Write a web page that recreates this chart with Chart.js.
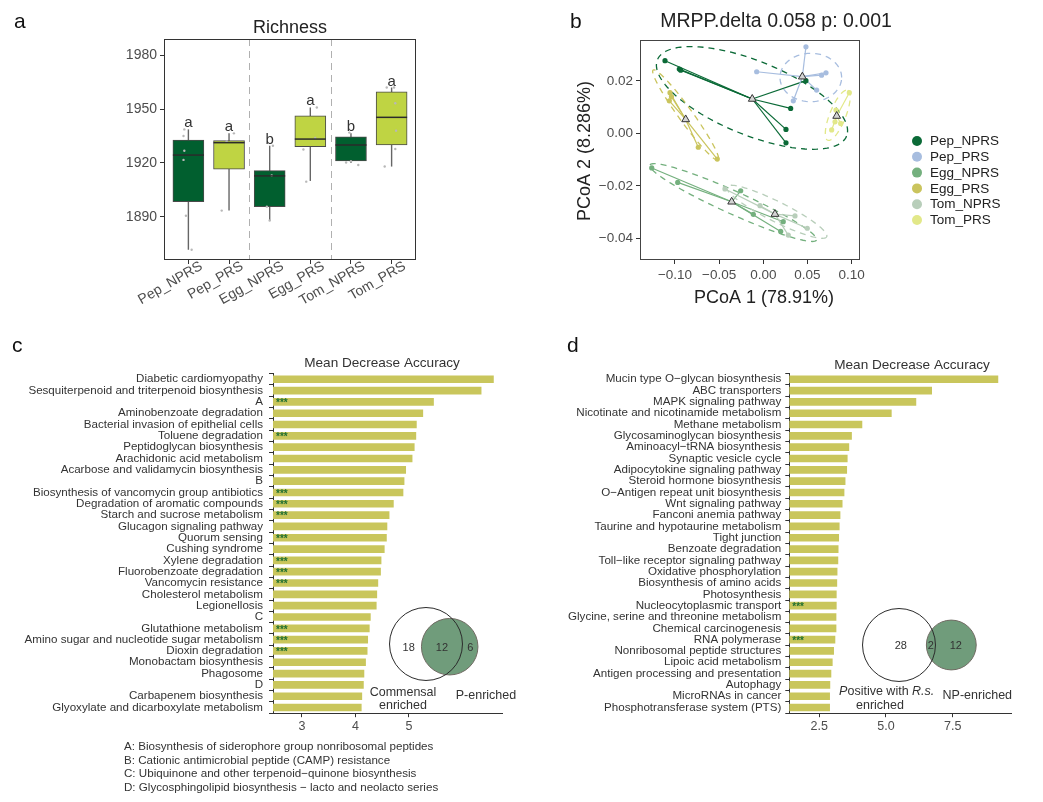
<!DOCTYPE html>
<html>
<head>
<meta charset="utf-8">
<script src="https://cdn.jsdelivr.net/npm/chart.js@4.4.1/dist/chart.umd.min.js"></script>
<style>
  body { margin: 0; background: #fff; font-family: "Liberation Sans", Arial, sans-serif; }
  #wrap { position: relative; width: 1043px; height: 802px; overflow: hidden; }
  canvas { position: absolute; }
  .tag { position: absolute; font-size: 21px; color: #111; line-height: 1; }
  .note { position: absolute; left: 124px; font-size: 11.6px; color: #333; white-space: nowrap; line-height: 1; }
</style>
</head>
<body>
<div id="wrap">
  <canvas id="richness" width="540" height="330" style="left:0;top:0"></canvas>
  <canvas id="pcoa" width="483" height="330" style="left:560px;top:0"></canvas>
  <canvas id="impC" width="540" height="400" style="left:0;top:340px"></canvas>
  <canvas id="impD" width="503" height="400" style="left:540px;top:340px"></canvas>
  <div class="tag" style="left:14px;top:10px">a</div>
  <div class="tag" style="left:570px;top:10px">b</div>
  <div class="tag" style="left:12px;top:334px">c</div>
  <div class="tag" style="left:567px;top:334px">d</div>
  <div class="note" style="top:740px">A: Biosynthesis of siderophore group nonribosomal peptides</div>
  <div class="note" style="top:754px">B: Cationic antimicrobial peptide (CAMP) resistance</div>
  <div class="note" style="top:767px">C: Ubiquinone and other terpenoid−quinone biosynthesis</div>
  <div class="note" style="top:781px">D: Glycosphingolipid biosynthesis − lacto and neolacto series</div>
</div>
<script>
// ---------- a: Richness boxplots ----------
const richGroups = ["Pep_NPRS", "Pep_PRS", "Egg_NPRS", "Egg_PRS", "Tom_NPRS", "Tom_PRS"];
const richLow  = [1871.7, 1893.5, 1887.9, 1910.0, 1920.0, 1918.0];
const richQ1   = [1898.5, 1916.5, 1895.7, 1929.1, 1921.1, 1930.0];
const richMed  = [1924.4, 1931.3, 1912.8, 1933.3, 1930.0, 1945.4];
const richQ3   = [1932.8, 1932.4, 1915.7, 1946.3, 1934.6, 1959.6];
const richHigh = [1938.7, 1936.5, 1929.6, 1950.9, 1936.5, 1962.0];
const richLetters = ["a", "a", "b", "a", "b", "a"];
const richTicks = [1890, 1920, 1950, 1980];
const richSeparators = [1.5, 3.5];
// jittered sample points: group index, jitter offset, value
const richDotGroup = [0, 0, 0, 0, 0, 0, 1, 1, 1, 2, 2, 2, 2, 3, 3, 3, 3, 4, 4, 4, 4, 5, 5, 5, 5, 5, 5];
const richDotShift = [-0.1, -0.12, -0.1, -0.12, -0.06, 0.08, 0.12, -0.06, -0.18, 0.08, 0.05, -0.07, 0.0,
  0.16, 0.12, -0.17, -0.1, -0.04, -0.12, 0.0, 0.18, -0.12, 0.06, 0.09, 0.11, 0.09, -0.17];
const richDotValue = [1938.7, 1935, 1926.8, 1921.7, 1890.6, 1871.7, 1936.5, 1932, 1893.5, 1929.6, 1913, 1895.7, 1888,
  1950.9, 1933.9, 1927.5, 1909.6, 1936.9, 1920.3, 1921, 1918.9, 1962, 1962, 1953.2, 1938, 1927.8, 1918];

// ---------- b: PCoA ----------
const pcoaGroups = ["Pep_NPRS", "Pep_PRS", "Egg_NPRS", "Egg_PRS", "Tom_NPRS", "Tom_PRS"];
const pcoaX = [
  [-0.1113, -0.0951, -0.0935, 0.0483, 0.031, 0.0257, 0.0257],
  [0.0483, -0.0075, 0.071, 0.0604, 0.034, 0.066],
  [-0.1263, -0.0969, -0.0256, -0.0113, 0.0226, 0.0197],
  [-0.1056, -0.1064, -0.104, -0.0736, -0.0521],
  [-0.0434, -0.0037, 0.0359, 0.0498, 0.0283],
  [0.0974, 0.0823, 0.0876, 0.0774, 0.0812]
];
const pcoaY = [
  [0.0277, 0.0245, 0.0241, 0.0201, 0.0095, 0.0015, -0.0036],
  [0.033, 0.0235, 0.0231, 0.0165, 0.0124, 0.0222],
  [-0.0132, -0.0187, -0.0219, -0.0309, -0.0337, -0.0374],
  [0.0155, 0.0124, 0.014, -0.0053, -0.0098],
  [-0.0212, -0.0276, -0.0315, -0.0362, -0.0388],
  [0.0155, 0.0089, 0.0038, 0.0013, 0.0044]
];
const centroidX = [-0.0125, 0.0442, -0.0358, -0.0879, 0.0132, 0.0831];
const centroidY = [0.0131, 0.0216, -0.0261, 0.0053, -0.0308, 0.0066];
// confidence ellipses: centre and two conjugate semi-axes, in PCoA units
const ellCX = [-0.0128, 0.0538, -0.034, -0.0879, 0.0152, 0.0843];
const ellCY = [0.0135, 0.0213, -0.0264, 0.007, -0.0299, 0.0069];
const ellAX = [0.1071, 0.0349, 0.0943, 0.0368, 0.0566, 0.0113];
const ellAY = [-0.01457, 0, -0.0143, -0.01716, -0.00953, 0.00953];
const ellBX = [-0.01573, 0, -0.00529, -0.00645, -0.0051, 0.0084];
const ellBY = [-0.01308, 0.00923, -0.00397, -0.00156, -0.0034, -0.00114];
const pcoaXTicks = [-0.1, -0.05, 0, 0.05, 0.1];
const pcoaYTicks = [-0.04, -0.02, 0, 0.02];

// ---------- c: importance, commensal ----------
const cLabels = ["Diabetic cardiomyopathy", "Sesquiterpenoid and triterpenoid biosynthesis", "A",
  "Aminobenzoate degradation", "Bacterial invasion of epithelial cells", "Toluene degradation",
  "Peptidoglycan biosynthesis", "Arachidonic acid metabolism", "Acarbose and validamycin biosynthesis", "B",
  "Biosynthesis of vancomycin group antibiotics", "Degradation of aromatic compounds",
  "Starch and sucrose metabolism", "Glucagon signaling pathway", "Quorum sensing", "Cushing syndrome",
  "Xylene degradation", "Fluorobenzoate degradation", "Vancomycin resistance", "Cholesterol metabolism",
  "Legionellosis", "C", "Glutathione metabolism", "Amino sugar and nucleotide sugar metabolism",
  "Dioxin degradation", "Monobactam biosynthesis", "Phagosome", "D", "Carbapenem biosynthesis",
  "Glyoxylate and dicarboxylate metabolism"];
const cValues = [6.58, 6.35, 5.46, 5.26, 5.14, 5.13, 5.10, 5.06, 4.94, 4.91, 4.89, 4.71, 4.63, 4.59, 4.58,
  4.54, 4.48, 4.47, 4.42, 4.40, 4.39, 4.28, 4.26, 4.23, 4.22, 4.19, 4.16, 4.15, 4.12, 4.11];
const cStars = [0, 0, 1, 0, 0, 1, 0, 0, 0, 0, 1, 1, 1, 0, 1, 0, 1, 1, 1, 0, 0, 0, 1, 1, 1, 0, 0, 0, 0, 0];
const cTicks = [3, 4, 5];
const cVenn = [18, 12, 6];

// ---------- d: importance, positive ----------
const dLabels = ["Mucin type O−glycan biosynthesis", "ABC transporters", "MAPK signaling pathway",
  "Nicotinate and nicotinamide metabolism", "Methane metabolism", "Glycosaminoglycan biosynthesis",
  "Aminoacyl−tRNA biosynthesis", "Synaptic vesicle cycle", "Adipocytokine signaling pathway",
  "Steroid hormone biosynthesis", "O−Antigen repeat unit biosynthesis", "Wnt signaling pathway",
  "Fanconi anemia pathway", "Taurine and hypotaurine metabolism", "Tight junction", "Benzoate degradation",
  "Toll−like receptor signaling pathway", "Oxidative phosphorylation", "Biosynthesis of amino acids",
  "Photosynthesis", "Nucleocytoplasmic transport", "Glycine, serine and threonine metabolism",
  "Chemical carcinogenesis", "RNA polymerase", "Nonribosomal peptide structures", "Lipoic acid metabolism",
  "Antigen processing and presentation", "Autophagy", "MicroRNAs in cancer", "Phosphotransferase system (PTS)"];
const dValues = [9.19, 6.71, 6.12, 5.20, 4.10, 3.71, 3.61, 3.55, 3.53, 3.47, 3.43, 3.36, 3.28, 3.25, 3.23,
  3.21, 3.20, 3.17, 3.16, 3.14, 3.14, 3.13, 3.13, 3.09, 3.04, 2.99, 2.94, 2.90, 2.89, 2.89];
const dStars = [0, 0, 0, 0, 0, 0, 0, 0, 0, 0, 0, 0, 0, 0, 0, 0, 0, 0, 0, 0, 1, 0, 0, 1, 0, 0, 0, 0, 0, 0];
const dTicks = [2.5, 5.0, 7.5];
const dVenn = [28, 2, 12];

// colours
const NPRS_FILL = "#015f2f";
const PRS_FILL = "#bfd443";
const richFill = richGroups.map(g => g.endsWith("NPRS") ? NPRS_FILL : PRS_FILL);
const pcoaColors = ["#0b6a37", "#a7bddf", "#74b07e", "#cac45d", "#b8ceba", "#e2e889"];
const BAR_COLOR = "#c9c65c";
const STAR_COLOR = "#1f6f30";
const VENN_GREEN = "rgba(100, 148, 112, 0.92)";
const FONT = '"Liberation Sans", Arial, sans-serif';

Chart.defaults.font.family = FONT;
Chart.defaults.color = "#4d4d4d";

const minus = (s) => s.replace("-", "\u2212");
const noUi = { legend: { display: false }, tooltip: { enabled: false } };

// ================= a =================
const BOX_W = 31;
const boxPlugin = {
  id: "boxParts",
  beforeDatasetsDraw(chart) {
    const { ctx, chartArea, scales: { x, y } } = chart;
    ctx.save();
    ctx.strokeStyle = "#b0b0b0";
    ctx.lineWidth = 1;
    ctx.setLineDash([7, 5]);
    richSeparators.forEach((v) => {
      const px = Math.round(x.getPixelForValue(v)) + 0.5;
      ctx.beginPath();
      ctx.moveTo(px, chartArea.top);
      ctx.lineTo(px, chartArea.bottom);
      ctx.stroke();
    });
    ctx.setLineDash([]);
    ctx.strokeStyle = "#666";
    ctx.lineWidth = 1.4;
    richGroups.forEach((g, i) => {
      const px = x.getPixelForValue(i);
      ctx.beginPath();
      ctx.moveTo(px, y.getPixelForValue(richLow[i]));
      ctx.lineTo(px, y.getPixelForValue(richHigh[i]));
      ctx.stroke();
    });
    ctx.restore();
  },
  afterDatasetsDraw(chart) {
    const { ctx, chartArea, scales: { x, y } } = chart;
    ctx.save();
    ctx.strokeStyle = "#2b2b2b";
    ctx.lineWidth = 1.5;
    richGroups.forEach((g, i) => {
      const px = x.getPixelForValue(i);
      const py = y.getPixelForValue(richMed[i]);
      ctx.beginPath();
      ctx.moveTo(px - BOX_W / 2, py);
      ctx.lineTo(px + BOX_W / 2, py);
      ctx.stroke();
    });
    // significance letters
    ctx.fillStyle = "#333";
    ctx.font = "15px " + FONT;
    ctx.textAlign = "center";
    ctx.textBaseline = "alphabetic";
    richLetters.forEach((l, i) => {
      ctx.fillText(l, x.getPixelForValue(i), y.getPixelForValue(richHigh[i]) - 2);
    });
    // frame
    ctx.strokeStyle = "#333";
    ctx.lineWidth = 1;
    ctx.strokeRect(chartArea.left + 0.5, chartArea.top + 0.5,
      chartArea.right - chartArea.left - 1, chartArea.bottom - chartArea.top - 1);
    // title
    ctx.fillStyle = "#222";
    ctx.font = "18px " + FONT;
    ctx.textBaseline = "middle";
    ctx.fillText("Richness", (chartArea.left + chartArea.right) / 2, 28);
    ctx.restore();
  }
};

new Chart(document.getElementById("richness"), {
  type: "bar",
  data: {
    datasets: [
      {
        type: "scatter",
        data: richDotGroup.map((g, k) => ({ x: g + richDotShift[k], y: richDotValue[k] })),
        pointRadius: 1.2,
        backgroundColor: "#b8b8b8",
        borderWidth: 0,
        order: 1
      },
      {
        type: "bar",
        data: richGroups.map((g, i) => ({ x: i, y: [richQ1[i], richQ3[i]] })),
        backgroundColor: richFill,
        borderColor: "#4a4a4a",
        borderWidth: 1,
        borderSkipped: false,
        barThickness: BOX_W,
        grouped: false,
        order: 2
      }
    ]
  },
  options: {
    responsive: false,
    animation: false,
    events: [],
    layout: { padding: { left: 0, right: 124, top: 39, bottom: 0 } },
    plugins: noUi,
    scales: {
      x: {
        type: "linear",
        min: -0.6,
        max: 5.6,
        offset: false,
        afterBuildTicks: (s) => { s.ticks = richGroups.map((g, i) => ({ value: i })); },
        afterFit: (s) => { s.height = 70; },
        grid: { offset: false, drawOnChartArea: false, tickLength: 4, color: "#333" },
        border: { display: false },
        ticks: {
          minRotation: 30,
          maxRotation: 30,
          padding: -6,
          labelOffset: 13,
          autoSkip: false,
          color: "#4d4d4d",
          font: { size: 14 },
          callback: (v) => richGroups[v] ?? ""
        }
      },
      y: {
        min: 1866,
        max: 1989,
        afterBuildTicks: (s) => { s.ticks = richTicks.map((v) => ({ value: v })); },
        afterFit: (s) => { s.width = 164; },
        grid: { drawOnChartArea: false, tickLength: 4, color: "#333" },
        border: { display: false },
        ticks: { color: "#4d4d4d", font: { size: 14 }, padding: 3, callback: (v) => String(v) }
      }
    }
  },
  plugins: [boxPlugin]
});

// ================= b =================
const pcoaPlugin = {
  id: "pcoaParts",
  beforeDatasetsDraw(chart) {
    const { ctx, scales: { x, y } } = chart;
    ctx.save();
    pcoaGroups.forEach((g, i) => {
      // ellipse
      ctx.strokeStyle = pcoaColors[i];
      ctx.lineWidth = 1.3;
      ctx.setLineDash([6, 5]);
      ctx.beginPath();
      for (let d = 0; d <= 360; d += 3) {
        const t = (d * Math.PI) / 180;
        const vx = ellCX[i] + ellAX[i] * Math.cos(t) + ellBX[i] * Math.sin(t);
        const vy = ellCY[i] + ellAY[i] * Math.cos(t) + ellBY[i] * Math.sin(t);
        const px = x.getPixelForValue(vx);
        const py = y.getPixelForValue(vy);
        if (d === 0) ctx.moveTo(px, py); else ctx.lineTo(px, py);
      }
      ctx.stroke();
      // spider lines to the group centroid
      ctx.setLineDash([]);
      ctx.lineWidth = 1.2;
      const cx = x.getPixelForValue(centroidX[i]);
      const cy = y.getPixelForValue(centroidY[i]);
      pcoaX[i].forEach((v, k) => {
        ctx.beginPath();
        ctx.moveTo(cx, cy);
        ctx.lineTo(x.getPixelForValue(v), y.getPixelForValue(pcoaY[i][k]));
        ctx.stroke();
      });
    });
    ctx.restore();
  },
  afterDraw(chart) {
    const { ctx, chartArea } = chart;
    ctx.save();
    ctx.strokeStyle = "#444";
    ctx.lineWidth = 1;
    ctx.strokeRect(chartArea.left + 0.5, chartArea.top + 0.5,
      chartArea.right - chartArea.left - 1, chartArea.bottom - chartArea.top - 1);
    ctx.fillStyle = "#222";
    ctx.textAlign = "center";
    ctx.textBaseline = "middle";
    ctx.font = "19.5px " + FONT;
    ctx.fillText("MRPP.delta 0.058 p: 0.001", 216, 22);
    ctx.font = "18px " + FONT;
    ctx.fillText("PCoA 1 (78.91%)", 204, 298);
    ctx.translate(25, 151);
    ctx.rotate(-Math.PI / 2);
    ctx.fillText("PCoA 2 (8.286%)", 0, 0);
    ctx.restore();
    // legend
    ctx.save();
    ctx.font = "13.5px " + FONT;
    ctx.textAlign = "left";
    ctx.textBaseline = "middle";
    pcoaGroups.forEach((g, i) => {
      const ly = 141 + i * 15.8;
      ctx.fillStyle = pcoaColors[i];
      ctx.beginPath();
      ctx.arc(357, ly, 5, 0, Math.PI * 2);
      ctx.fill();
      ctx.fillStyle = "#222";
      ctx.fillText(g, 370, ly + 0.5);
    });
    ctx.restore();
  }
};

new Chart(document.getElementById("pcoa"), {
  type: "scatter",
  data: {
    datasets: [
      ...pcoaGroups.map((g, i) => ({
        label: g,
        data: pcoaX[i].map((v, k) => ({ x: v, y: pcoaY[i][k] })),
        pointRadius: 2.6,
        backgroundColor: pcoaColors[i],
        borderWidth: 0,
        order: 2
      })),
      {
        label: "centroid",
        data: centroidX.map((v, i) => ({ x: v, y: centroidY[i] })),
        pointStyle: "triangle",
        pointRadius: 4.5,
        backgroundColor: "#d4d4d4",
        borderColor: "#333",
        borderWidth: 1,
        order: 1
      }
    ]
  },
  options: {
    responsive: false,
    animation: false,
    events: [],
    layout: { padding: { left: 0, right: 183, top: 40, bottom: 0 } },
    plugins: noUi,
    scales: {
      x: {
        type: "linear",
        min: -0.1396,
        max: 0.1095,
        afterBuildTicks: (s) => { s.ticks = pcoaXTicks.map((v) => ({ value: v })); },
        afterFit: (s) => { s.height = 70; },
        grid: { drawOnChartArea: false, tickLength: 4, color: "#333" },
        border: { display: false },
        ticks: { color: "#4d4d4d", font: { size: 13.5 }, padding: 3, callback: (v) => minus(v.toFixed(2)) }
      },
      y: {
        min: -0.0483,
        max: 0.0356,
        afterBuildTicks: (s) => { s.ticks = pcoaYTicks.map((v) => ({ value: v })); },
        afterFit: (s) => { s.width = 80; },
        grid: { drawOnChartArea: false, tickLength: 4, color: "#333" },
        border: { display: false },
        ticks: { color: "#4d4d4d", font: { size: 13.5 }, padding: 3, callback: (v) => minus(v.toFixed(2)) }
      }
    }
  },
  plugins: [pcoaPlugin]
});

// ================= c & d =================
const VENN_K = 6.66; // circle radius per sqrt(set size)

function importancePlugin(cfg) {
  return {
    id: "importanceParts",
    afterDatasetsDraw(chart) {
      const { ctx, chartArea, scales: { y } } = chart;
      ctx.save();
      // significance stars
      ctx.fillStyle = STAR_COLOR;
      ctx.font = "bold 10px " + FONT;
      ctx.textAlign = "left";
      ctx.textBaseline = "middle";
      cfg.stars.forEach((s, i) => {
        if (s) ctx.fillText("***", chartArea.left + 3, y.getPixelForValue(i) + 1.5);
      });
      // title
      ctx.fillStyle = "#333";
      ctx.font = "13.6px " + FONT;
      ctx.textAlign = "center";
      ctx.fillText("Mean Decrease Accuracy", cfg.titleX, cfg.titleY);

      // Venn diagram
      const [onlyA, both, onlyB] = cfg.venn;
      const rA = VENN_K * Math.sqrt(onlyA + both);
      const rB = VENN_K * Math.sqrt(both + onlyB);
      const ax = cfg.vennX, ay = cfg.vennY;
      const bx = ax + cfg.vennGap, by = ay + cfg.vennDy;
      ctx.fillStyle = "#fff";
      ctx.beginPath(); ctx.arc(ax, ay, rA, 0, Math.PI * 2); ctx.fill();
      ctx.fillStyle = VENN_GREEN;
      ctx.beginPath(); ctx.arc(bx, by, rB, 0, Math.PI * 2); ctx.fill();
      ctx.lineWidth = 1;
      ctx.strokeStyle = "#6f6a62";
      ctx.beginPath(); ctx.arc(bx, by, rB, 0, Math.PI * 2); ctx.stroke();
      ctx.strokeStyle = "#2a2a2a";
      ctx.beginPath(); ctx.arc(ax, ay, rA, 0, Math.PI * 2); ctx.stroke();

      ctx.fillStyle = "#333";
      ctx.font = "11px " + FONT;
      const leftA = ax - rA, rightA = ax + rA, leftB = bx - rB, rightB = bx + rB;
      const ty = by + 1;
      ctx.fillText(String(onlyA), leftA + 0.6 * (leftB - leftA), ty);
      ctx.fillText(String(both), (leftB + rightA) / 2, ty);
      ctx.fillText(String(onlyB), (rightA + rightB) / 2, ty);

      ctx.font = "12.5px " + FONT;
      cfg.setLabels(ctx);
      ctx.restore();
    }
  };
}

function importanceChart(id, labels, values, ticks, xMin, xMax, axisW, padRight, labelPad, tickFmt, plugin) {
  new Chart(document.getElementById(id), {
    type: "bar",
    data: {
      labels: labels,
      datasets: [{
        data: values,
        backgroundColor: BAR_COLOR,
        borderWidth: 0,
        barThickness: 7
      }]
    },
    options: {
      indexAxis: "y",
      responsive: false,
      animation: false,
      events: [],
      layout: { padding: { left: 0, right: padRight, top: 33.6, bottom: 0 } },
      plugins: noUi,
      scales: {
        x: {
          type: "linear",
          min: xMin,
          max: xMax,
          afterBuildTicks: (s) => { s.ticks = ticks.map((v) => ({ value: v })); },
          afterFit: (s) => { s.height = 26.8; },
          grid: { drawOnChartArea: false, tickLength: 4, color: "#333" },
          border: { display: true, color: "#333", width: 1 },
          ticks: { color: "#4d4d4d", font: { size: 12.5 }, padding: 2, callback: tickFmt }
        },
        y: {
          afterFit: (s) => { s.width = axisW; },
          grid: { drawOnChartArea: false, tickLength: 4, color: "#333" },
          border: { display: true, color: "#333", width: 1 },
          ticks: { autoSkip: false, color: "#333", font: { size: 11.6 }, padding: labelPad }
        }
      }
    },
    plugins: [plugin]
  });
}

importanceChart("impC", cLabels, cValues, cTicks, 2.46, 6.74, 273, 38, 6, (v) => String(v),
  importancePlugin({
    stars: cStars, venn: cVenn, titleX: 382, titleY: 23,
    vennX: 426, vennY: 304, vennGap: 23.7, vennDy: 2.7,
    setLabels: (ctx) => {
      ctx.fillText("Commensal", 403, 352.5);
      ctx.fillText("enriched", 403, 366);
      ctx.fillText("P-enriched", 486, 356);
    }
  }));

importanceChart("impD", dLabels, dValues, dTicks, 1.38, 9.68, 249.3, 32, 4, (v) => v.toFixed(1),
  importancePlugin({
    stars: dStars, venn: dVenn, titleX: 372, titleY: 25,
    vennX: 359, vennY: 305, vennGap: 52.3, vennDy: 0,
    setLabels: (ctx) => {
      // "Positive with R.s." with italic P and R.s.
      const parts = [["P", true], ["ositive with ", false], ["R.s.", true]];
      const widths = parts.map(([t, it]) => {
        ctx.font = (it ? "italic " : "") + "12.5px " + FONT;
        return ctx.measureText(t).width;
      });
      let sx = 346.7 - widths.reduce((a, b) => a + b, 0) / 2;
      ctx.textAlign = "left";
      parts.forEach(([t, it], k) => {
        ctx.font = (it ? "italic " : "") + "12.5px " + FONT;
        ctx.fillText(t, sx, 352);
        sx += widths[k];
      });
      ctx.font = "12.5px " + FONT;
      ctx.textAlign = "center";
      ctx.fillText("enriched", 340, 365.5);
      ctx.fillText("NP-enriched", 437.3, 356);
    }
  }));
</script>
</body>
</html>
